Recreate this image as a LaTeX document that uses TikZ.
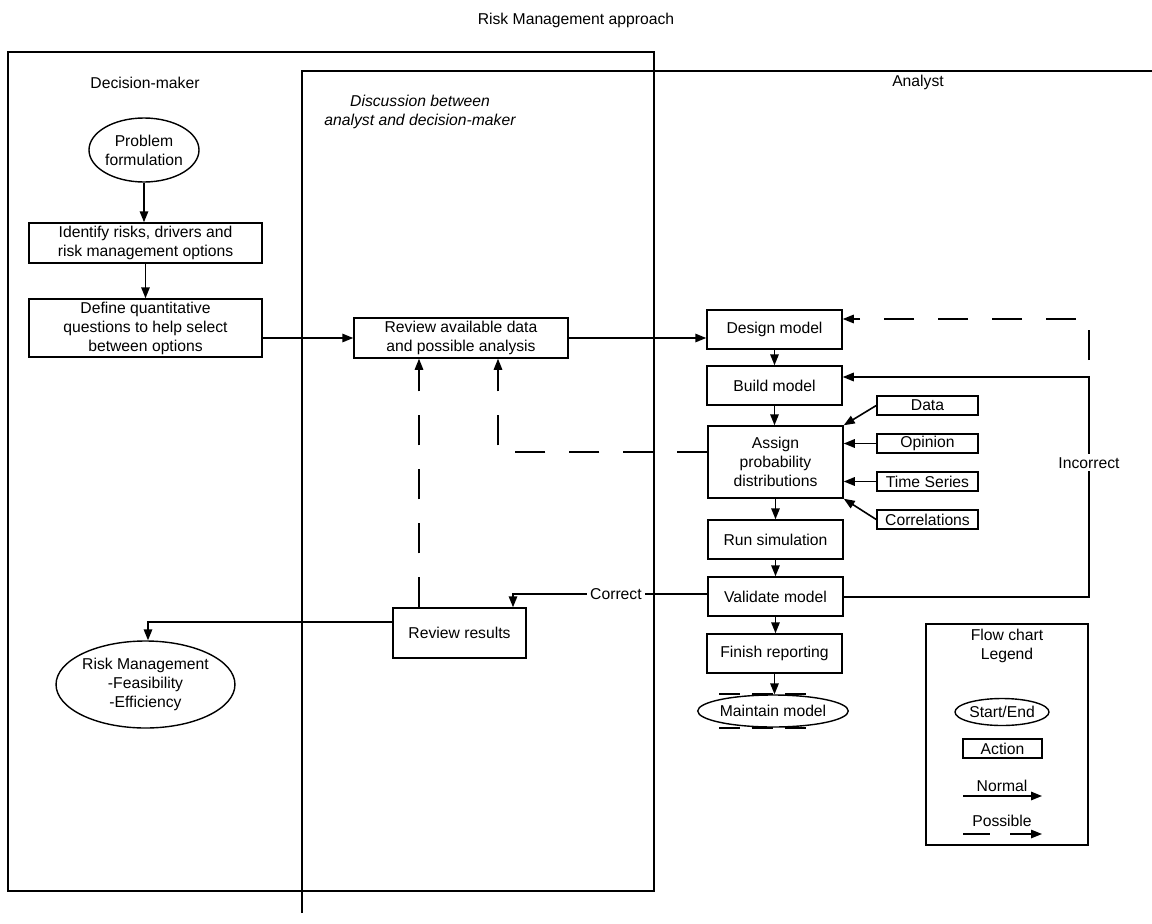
\documentclass[tikz,border=0pt]{standalone}
\usepackage{fontspec}
\setmainfont{Liberation Sans}
\usetikzlibrary{shapes.geometric,arrows.meta}
\tikzset{
  frame/.style={line width=1.5pt},
  box/.style={draw, line width=1.5pt, rectangle, align=center, inner sep=0pt},
  oval/.style={draw, line width=1.4pt, ellipse, align=center, inner sep=0pt},
  arr/.style={line width=1.6pt, -{Triangle[length=11pt,width=8.5pt]}},
  parr/.style={line width=1.4pt, dash pattern=on 30pt off 24pt, -{Triangle[length=11pt,width=8.5pt]}},
  mdash/.style={line width=1.2pt, dash pattern=on 21pt off 12pt},
  lbl/.style={fill=white, inner sep=3pt}
}
\begin{document}
\begin{tikzpicture}[x=1pt,y=-1pt,font=\fontsize{15.7}{19}\selectfont]
\useasboundingbox (0,0) rectangle (1152,924);
% frames
\draw[frame] (8,52) rectangle (654,891);
\draw[frame] (302,913) -- (302,71) -- (1152,71);
% headings
\node (title) at (576,20) {Risk Management approach};
\node (dm) at (145,83) {Decision-maker};
\node[align=center, font=\fontsize{15.7}{19}\selectfont\itshape] (disc) at (420,112) {Discussion between\\analyst and decision-maker};
\node (an) at (918,82) {Analyst};
% decision-maker column
\node[oval, minimum width=110pt, minimum height=64pt] (prob) at (144,150) {Problem\\formulation};
\node[box, minimum width=233pt, minimum height=40pt] (ident) at (145.5,243) {Identify risks, drivers and\\risk management options};
\node[box, minimum width=233pt, minimum height=58pt] (defq) at (145.5,328) {Define quantitative\\questions to help select\\between options};
\node[oval, minimum width=155pt, minimum height=87pt] (rm) at (145.5,684.5) {Risk Management\\-Feasibility\\-Efficiency};
% discussion column
\node[box, minimum width=214pt, minimum height=40pt] (review) at (461,338) {Review available data\\and possible analysis};
\node[box, minimum width=133pt, minimum height=50pt] (rr) at (459.5,633) {Review results};
% analyst column
\node[box, minimum width=135pt, minimum height=39pt] (design) at (774.5,329.5) {Design model};
\node[box, minimum width=135pt, minimum height=39pt] (build) at (774.5,385.5) {Build model};
\node[box, minimum width=135pt, minimum height=72pt] (assign) at (775.5,462) {Assign\\probability\\distributions};
\node[box, minimum width=135pt, minimum height=39pt] (run) at (775.5,539.5) {Run simulation};
\node[box, minimum width=135pt, minimum height=39pt] (validate) at (775.5,596.5) {Validate model};
\node[box, minimum width=135pt, minimum height=39pt] (finish) at (774.5,653.5) {Finish reporting};
\node[oval, minimum width=124pt, minimum height=32pt] (maintain) at (773,711) {Maintain model};
\node[box, minimum width=101pt, minimum height=19pt] (data) at (927.5,405.5) {Data};
\node[box, minimum width=101pt, minimum height=19pt] (opinion) at (927.5,443.5) {Opinion};
\node[box, minimum width=101pt, minimum height=19pt] (timeser) at (927.5,481.5) {Time Series};
\node[box, minimum width=101pt, minimum height=19pt] (corr) at (927.5,519.5) {Correlations};
% connectors
\draw[arr] (prob.south) -- (prob.south |- ident.north);
\draw[arr] (ident.south) -- (ident.south |- defq.north);
\draw[arr] (defq.east |- review.west) -- (review.west);
\draw[arr] (review.east) -- (design.west |- review.east);
\draw[arr] (design.south) -- (design.south |- build.north);
\draw[arr] (build.south) -- (build.south |- assign.north);
\draw[arr] (assign.south) -- (assign.south |- run.north);
\draw[arr] (run.south) -- (run.south |- validate.north);
\draw[arr] (validate.south) -- (validate.south |- finish.north);
\draw[arr] (finish.south) -- (finish.south |- maintain.north);
\draw[arr] (data.west) -- (assign.north east);
\draw[arr] (opinion.west) -- (assign.east |- opinion.west);
\draw[arr] (timeser.west) -- (assign.east |- timeser.west);
\draw[arr] (corr.west) -- (assign.south east);
\coordinate (d1) at (498,452);
\draw[parr] (assign.west |- d1) -- (d1) -- (d1 |- review.south);
\coordinate (d2) at (419,600);
\draw[parr] (rr.north -| d2) -- (d2 |- review.south);
\coordinate (i1) at (1089,597);
\coordinate (i2) at (1089,377);
\draw[arr] (validate.east |- i1) -- (i1) -- node[lbl, pos=0.61] {Incorrect} (i2) -- (build.east |- i2);
\coordinate (p1) at (1089,360);
\coordinate (p2) at (1089,319);
\draw[parr] (p1) -- (p2) -- (design.east |- p2);
\coordinate (c1) at (513,594);
\draw[arr] (validate.west |- c1) -- node[lbl, pos=0.47] {Correct} (c1) -- (rr.north -| c1);
\coordinate (r1) at (148,622);
\draw[arr] (rr.west |- r1) -- (r1) -- (r1 |- rm.north);
\draw[mdash] (719,694) -- (813,694);
\draw[mdash] (719,728) -- (813,728);
% legend
\node[draw, frame, minimum width=162pt, minimum height=221pt] (legend) at (1007,734.5) {};
\node[align=center] (legtitle) at (1007,646) {Flow chart\\Legend};
\node[oval, minimum width=94pt, minimum height=27pt] (lse) at (1002,712) {Start/End};
\node[box, minimum width=79pt, minimum height=19pt] (lact) at (1002.5,748.5) {Action};
\node (lnorm) at (1002,786) {Normal};
\coordinate (n1) at (963,796);
\coordinate (n2) at (1042,796);
\draw[arr] (n1) -- (n2);
\node (lposs) at (1002,821) {Possible};
\coordinate (q1) at (963,834);
\coordinate (q2) at (1042,834);
\draw[parr, dash pattern=on 27pt off 20pt] (q1) -- (q2);
\end{tikzpicture}
\end{document}
